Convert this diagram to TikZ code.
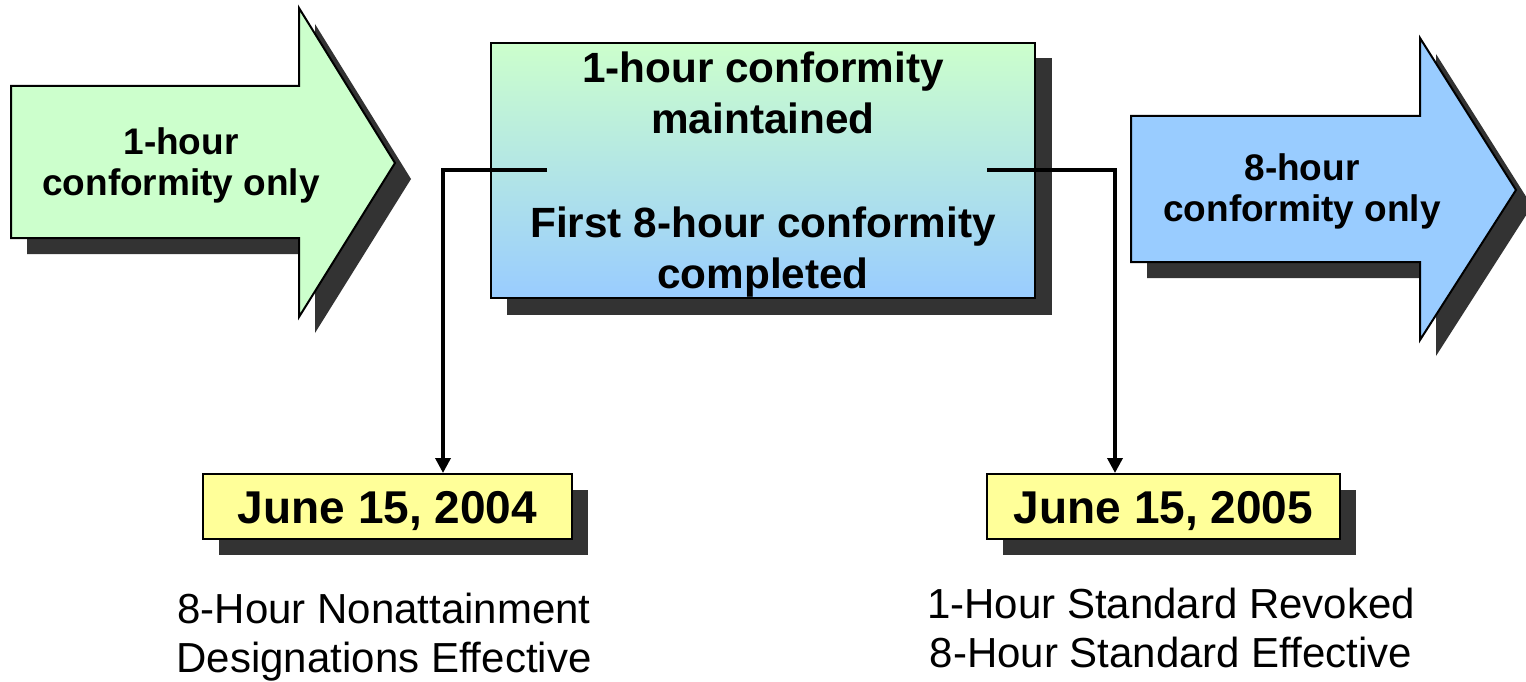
\documentclass[tikz,border=0pt]{standalone}
\usepackage{fontspec}
\setmainfont{Liberation Sans}
\usetikzlibrary{arrows.meta}
\definecolor{shadowgray}{HTML}{333333}
\definecolor{lightgreen}{HTML}{CCFFCC}
\definecolor{lightblue}{HTML}{99CCFF}
\definecolor{paleyellow}{HTML}{FFFF99}
\begin{document}
\begin{tikzpicture}[x=1pt,y=-1pt,
  outline/.style={draw=black,line width=2pt,line join=miter},
  shadowfill/.style={fill=shadowgray},
  arrowtext/.style={font=\fontsize{37}{41}\selectfont\bfseries,align=center,inner sep=0pt},
  boxtext/.style={font=\fontsize{42.3}{51}\selectfont\bfseries,align=center,inner sep=0pt},
  datebox/.style={draw=black,line width=2pt,fill=paleyellow,minimum height=65pt,inner sep=0pt,text height=33pt,text depth=0pt,font=\fontsize{46}{50}\selectfont\bfseries},
  notetext/.style={font=\fontsize{42}{49.5}\selectfont,align=center,inner sep=0pt},
  conn/.style={line width=3.5pt,line join=miter,-{Triangle[length=15pt,width=15pt]}},
]
\useasboundingbox[fill=white] (0,0) rectangle (1526,682);

% left arrow
\fill[shadowfill,shift={(16,16)}] (11,86) -- (299,86) -- (299,8) -- (395,163) -- (299,317) -- (299,238) -- (11,238) -- cycle;
\draw[outline,fill=lightgreen] (11,86) -- (299,86) -- (299,8) -- (395,163) -- (299,317) -- (299,238) -- (11,238) -- cycle;
\node[arrowtext] (t1) at (181,165) {1-hour\\conformity only};

% right arrow
\fill[shadowfill,shift={(16,16)}] (1131,116) -- (1420,116) -- (1420,38) -- (1516,190) -- (1420,340) -- (1420,262) -- (1131,262) -- cycle;
\draw[outline,fill=lightblue] (1131,116) -- (1420,116) -- (1420,38) -- (1516,190) -- (1420,340) -- (1420,262) -- (1131,262) -- cycle;
\node[arrowtext] (t3) at (1302,191) {8-hour\\conformity only};

% centre box
\fill[shadowfill] (507,58) rectangle (1052,315);
\node[outline,top color=lightgreen,bottom color=lightblue,minimum width=544pt,minimum height=255pt,inner sep=0pt] (mid) at (763,170.5) {};
\node[boxtext] (m1) at (763,93) {1-hour conformity\\maintained};
\node[boxtext] (m2) at (763,252) {First 8-hour conformity\\completed};

% date boxes
\fill[shadowfill] (219,490) rectangle (588,555);
\node[datebox,minimum width=369pt] (d1) at (387.5,506.5) {June 15, 2004};
\fill[shadowfill] (1003,490) rectangle (1356,555);
\node[datebox,minimum width=353pt] (d2) at (1163.5,506.5) {June 15, 2005};

% connectors
\coordinate (s1) at (547,170);
\coordinate (k1) at (443,170);
\draw[conn] (s1) -- (k1) -- (k1 |- d1.north);
\coordinate (s2) at (987,170);
\coordinate (k2) at (1115,170);
\draw[conn] (s2) -- (k2) -- (k2 |- d2.north);

% notes
\node[notetext] (n1) at (384,637) {8-Hour Nonattainment\\Designations Effective};
\node[notetext] (n2) at (1171,628) {1-Hour Standard Revoked\\8-Hour Standard Effective};
\end{tikzpicture}
\end{document}
